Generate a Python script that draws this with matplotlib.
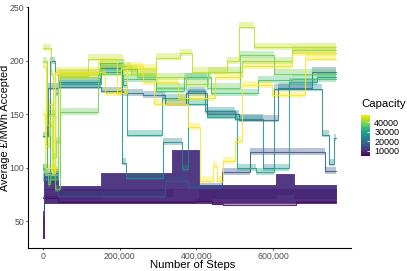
import matplotlib
matplotlib.use("Agg")
import matplotlib.pyplot as plt
import numpy as np
from matplotlib import colors
from matplotlib.cm import ScalarMappable

plt.rcParams['font.family'] = ['Liberation Sans', 'DejaVu Sans']

# ---- data (x in thousands of steps, y in GBP/MWh) ----
cap_min, cap_max = 4400, 47700

# Low-capacity runs drawn as filled noise bands (lower / upper envelope)
band_caps = [10000, 9000]
band_x = [
    [0, 3, 41, 153, 337, 408, 608, 655, 765],
    [0, 3, 765],
]
band_lo = [
    [35, 80, 72, 74, 80, 72, 76, 72, 72],
    [35, 67, 67],
]
band_hi = [
    [60, 92, 83, 95, 117, 84, 94, 84, 84],
    [55, 80, 80],
]

# Other runs: step levels
line_caps = [6000, 15500, 25000, 29000, 21000, 38000, 35000, 41000, 43500, 47500, 46500]
line_x = [
    [0, 41, 398, 442, 470, 660, 765],
    [0, 3, 41, 318, 378, 466, 541, 735, 765],
    [0, 10, 20, 31, 41, 148, 207, 216, 313, 363, 379, 423, 500, 573, 601, 728, 745, 758, 765],
    [0, 31, 41, 153, 209, 219, 311, 372, 428, 505, 556, 601, 642, 714, 765],
    [0, 15, 41, 153, 209, 260, 318, 372, 428, 510, 612, 700, 765],
    [0, 15, 20, 31, 46, 143, 204, 245, 296, 372, 428, 514, 601, 765],
    [0, 10, 20, 41, 148, 209, 296, 367, 439, 560, 650, 765],
    [0, 12, 25, 35, 46, 150, 230, 296, 372, 430, 520, 650, 765],
    [0, 22, 27, 41, 117, 209, 296, 357, 388, 479, 510, 551, 765],
    [0, 5, 31, 143, 194, 219, 260, 291, 379, 410, 444, 454, 469, 500, 520, 597, 683, 765],
    [0, 8, 16, 24, 33, 163, 204, 296, 352, 449, 520, 650, 765],
]
line_y = [
    [72, 68, 69, 66.5, 65, 68, 68],
    [55, 95, 74, 88, 82, 96, 115, 97, 97],
    [100, 150, 200, 95, 180, 193, 105, 91, 124, 99, 172, 153, 146, 100, 174, 131, 104, 128, 128],
    [90, 170, 178, 190, 177, 131, 165, 160, 148, 100, 96, 100, 180, 185, 185],
    [130, 175, 176, 172, 170, 168, 160, 170, 150, 145, 175, 190, 190],
    [95, 85, 150, 80, 152, 188, 192, 185, 175, 185, 175, 205, 188, 188],
    [100, 130, 90, 188, 198, 183, 172, 185, 170, 182, 183, 183],
    [200, 140, 110, 125, 185, 195, 188, 185, 178, 190, 200, 210, 210],
    [212, 188, 98, 186, 202, 188, 203, 207, 190, 200, 232, 213, 213],
    [150, 100, 188, 199, 170, 195, 180, 160, 138, 88, 102, 88, 106, 125, 177, 168, 202, 202],
    [195, 120, 160, 95, 190, 170, 193, 180, 165, 185, 195, 207, 207],
]

x_ticks = [0, 200000, 400000, 600000]
x_tick_labels = ["0", "200,000", "400,000", "600,000"]
y_ticks = [50, 100, 150, 200, 250]
cbar_ticks = [10000, 20000, 30000, 40000]

# ---- plot ----
W, H = 407, 271
fig = plt.figure(figsize=(W / 100, H / 100), dpi=100)
ax = fig.add_axes([28 / W, 1 - 248 / H, (351 - 28) / W, (248 - 7.3) / H])

norm = colors.Normalize(cap_min, cap_max)
cmap = plt.get_cmap('viridis')

for cap, xs, lo, hi in zip(band_caps, band_x, band_lo, band_hi):
    xs = np.asarray(xs) * 1000
    c = cmap(norm(cap))
    ax.fill_between(xs, lo, hi, step='post', color=c, alpha=0.95, lw=0.6, edgecolor=c)

for i, (cap, xs, ys) in enumerate(zip(line_caps, line_x, line_y)):
    xs = np.asarray(xs) * 1000
    ys = np.asarray(ys, dtype=float)
    c = cmap(norm(cap))
    spread_lo, spread_hi = (1.0, 1.5) if i == 0 else (2.5, 4.0)
    ax.fill_between(xs, ys - spread_lo, ys + spread_hi, step='post', color=c,
                    alpha=0.35, lw=0)
    ax.step(xs, ys, where='post', color=c, lw=0.8, alpha=0.85)

ax.set_xlim(-38300, 802800)
ax.set_ylim(25.2, 250)
ax.set_xticks(x_ticks)
ax.set_xticklabels(x_tick_labels)
ax.set_yticks(y_ticks)
for s in ['top', 'right']:
    ax.spines[s].set_visible(False)
for s in ['left', 'bottom']:
    ax.spines[s].set_color('black')
    ax.spines[s].set_linewidth(0.8)
ax.tick_params(axis='both', length=1.6, width=0.6, color='#333333',
               labelsize=6.3, labelcolor='#4d4d4d', pad=1)

fig.text(193 / W, 1 - 265.5 / H, 'Number of Steps', fontsize=8.2, ha='center', va='center')
fig.text(5 / W, 1 - 128 / H, 'Average £/MWh Accepted', fontsize=7.8, ha='center',
         va='center', rotation=90)

cax = fig.add_axes([361 / W, 1 - 156 / H, 9 / W, 41 / H])
cb = fig.colorbar(ScalarMappable(norm=norm, cmap=cmap), cax=cax, ticks=cbar_ticks)
cb.outline.set_visible(False)
cax.tick_params(length=2, width=0.6, color='white', labelsize=6.5, pad=3, direction='in')
cax.set_yticklabels([str(t) for t in cbar_ticks])
fig.text(361 / W, 1 - 104 / H, 'Capacity', fontsize=8.2, va='center', ha='left')

fig.savefig('out.png', dpi=100)
